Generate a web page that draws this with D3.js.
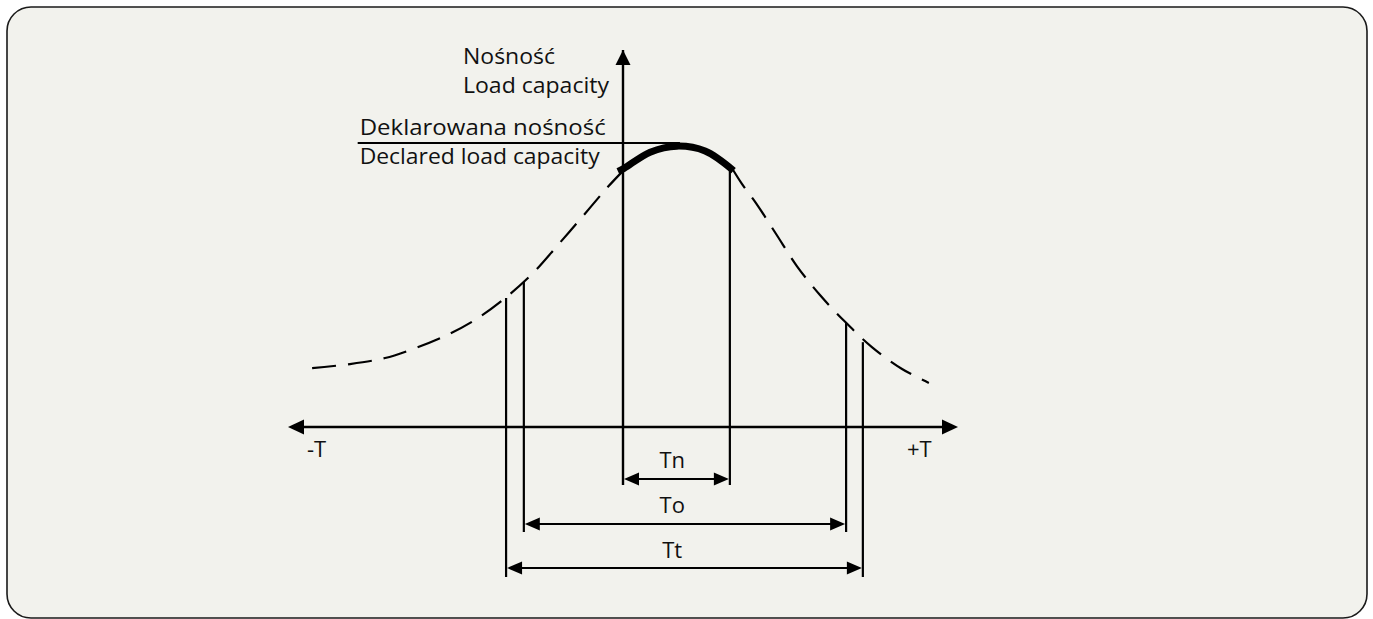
<!DOCTYPE html>
<html>
<head>
<meta charset="utf-8">
<script src="https://cdn.jsdelivr.net/npm/d3@7"></script>
<style>
  html, body { margin: 0; padding: 0; background: #ffffff; }
  svg { display: block; }
  text { font-family: "Open Sans", "Noto Sans", sans-serif; fill: #111; }
</style>
</head>
<body>
<svg id="chart" width="1373" height="619"></svg>
<script>
// ---- data ----
// load-capacity curve, left dashed part: [time, capacity]
const curveLeft = [[-9.28,1.56],[-8.15,1.67],[-7.10,1.83],[-6.42,2.02],[-5.37,2.39],[-4.42,2.84],
                   [-3.52,3.42],[-2.69,4.08],[-1.94,4.83],[-1.22,5.57],[-0.48,6.34],[0.03,6.82]];
// thick part (within nominal range Tn)
const curveTop = [[-0.15,6.78],[0.03,6.86],[0.81,7.29],[1.61,7.45],[2.45,7.32],[3.30,6.80]];
// right dashed part
const curveRight = [[3.25,6.87],[3.55,6.45],[3.97,5.94],[4.57,5.12],[5.19,4.27],[5.88,3.50],
                    [6.63,2.79],[7.43,2.12],[8.33,1.54],[9.13,1.17]];
const declaredCapacity = 7.53;
const declaredFrom = -7.92, declaredTo = 1.70;
// ranges: name, start, end, capacity at start, capacity at end
const rangeNames = ["Tn", "To", "Tt"];
const rangeStart = [0.0, -2.96, -3.49];
const rangeEnd   = [3.19, 6.66, 7.16];
const rangeTopStart = [10.0, 3.85, 3.42];
const rangeTopEnd   = [6.87, 2.76, 2.25];
const axisLabelsY = ["Nośność", "Load capacity"];
const declaredLabels = ["Deklarowana nośność", "Declared load capacity"];
const axisLabelsX = ["-T", "+T"];

// ---- layout ----
const svg = d3.select("#chart");
const x = d3.scaleLinear().domain([-10, 10]).range([288, 958]);
const y = d3.scaleLinear().domain([0, 10]).range([427, 50]);
const FS = 22;

svg.append("rect")
  .attr("x", 7).attr("y", 7).attr("width", 1360).attr("height", 611)
  .attr("rx", 24).attr("ry", 24)
  .attr("fill", "#f2f2ed").attr("stroke", "#1a1a1a").attr("stroke-width", 1.6);

const g = svg.append("g");

function arrowHead(px, py, dir, len, half) {
  let pts;
  if (dir === "right") pts = [[px, py], [px - len, py - half], [px - len, py + half]];
  else if (dir === "left") pts = [[px, py], [px + len, py - half], [px + len, py + half]];
  else pts = [[px, py], [px - half, py + len], [px + half, py + len]];
  g.append("path").attr("d", "M" + pts.map(p => p.join(",")).join("L") + "Z").attr("fill", "#000");
}

// x axis
const axisY = y(0);
g.append("line").attr("x1", x(-10) + 6).attr("x2", x(10) - 6).attr("y1", axisY).attr("y2", axisY)
  .attr("stroke", "#000").attr("stroke-width", 2.4);
arrowHead(x(-10), axisY, "left", 16, 7.5);
arrowHead(x(10), axisY, "right", 16, 7.5);

// dimension rows (px offsets below x axis)
const rowArrow = [52, 97, 141];
const rowBottom = [58, 105, 150];
const rowLabel = [41, 86, 131];

rangeNames.forEach((n, i) => {
  g.append("line").attr("x1", x(rangeStart[i])).attr("x2", x(rangeStart[i]))
    .attr("y1", y(rangeTopStart[i])).attr("y2", axisY + rowBottom[i])
    .attr("stroke", "#000").attr("stroke-width", i === 0 ? 2.4 : 2.2);
  g.append("line").attr("x1", x(rangeEnd[i])).attr("x2", x(rangeEnd[i]))
    .attr("y1", y(rangeTopEnd[i])).attr("y2", axisY + rowBottom[i])
    .attr("stroke", "#000").attr("stroke-width", 2.2);
  const ay = axisY + rowArrow[i];
  g.append("line").attr("x1", x(rangeStart[i]) + 8).attr("x2", x(rangeEnd[i]) - 8)
    .attr("y1", ay).attr("y2", ay).attr("stroke", "#000").attr("stroke-width", 2.2);
  arrowHead(x(rangeStart[i]) + 1, ay, "left", 15, 6.5);
  arrowHead(x(rangeEnd[i]) - 1, ay, "right", 15, 6.5);
  g.append("text").attr("x", x(1.47)).attr("y", axisY + rowLabel[i])
    .attr("text-anchor", "middle").attr("font-size", FS).text(n);
});

// y axis arrow head (the axis line is also the Tn start line)
arrowHead(x(0), y(10), "up", 15, 7.5);

// declared capacity line
g.append("line").attr("x1", x(declaredFrom)).attr("x2", x(declaredTo))
  .attr("y1", y(declaredCapacity)).attr("y2", y(declaredCapacity))
  .attr("stroke", "#000").attr("stroke-width", 2);

// curve
const line = d3.line().x(d => x(d[0])).y(d => y(d[1])).curve(d3.curveCatmullRom.alpha(0.5));
[curveLeft, curveRight].forEach(c => {
  g.append("path").attr("d", line(c)).attr("fill", "none").attr("stroke", "#000")
    .attr("stroke-width", 2.2).attr("stroke-dasharray", "24,12");
});
g.append("path").attr("d", line(curveTop)).attr("fill", "none").attr("stroke", "#000")
  .attr("stroke-width", 7);

// two-line labels
function label(txt, px, py, width, fs) {
  return g.append("text").attr("x", px).attr("y", py).attr("font-size", fs)
    .attr("textLength", width).attr("lengthAdjust", "spacingAndGlyphs").text(txt);
}
label(axisLabelsY[0], 463, 64, 92, 21);
label(axisLabelsY[1], 463, 93, 146, 21);
label(declaredLabels[0], x(declaredFrom) + 2, y(declaredCapacity) - 8, 246, 21);
label(declaredLabels[1], x(declaredFrom) + 2, y(declaredCapacity) + 21, 240, 21);

g.append("text").attr("x", x(-10) + 19).attr("y", axisY + 30).attr("font-size", FS).text(axisLabelsX[0]);
g.append("text").attr("x", x(10) - 51).attr("y", axisY + 30).attr("font-size", FS).text(axisLabelsX[1]);
</script>
</body>
</html>
